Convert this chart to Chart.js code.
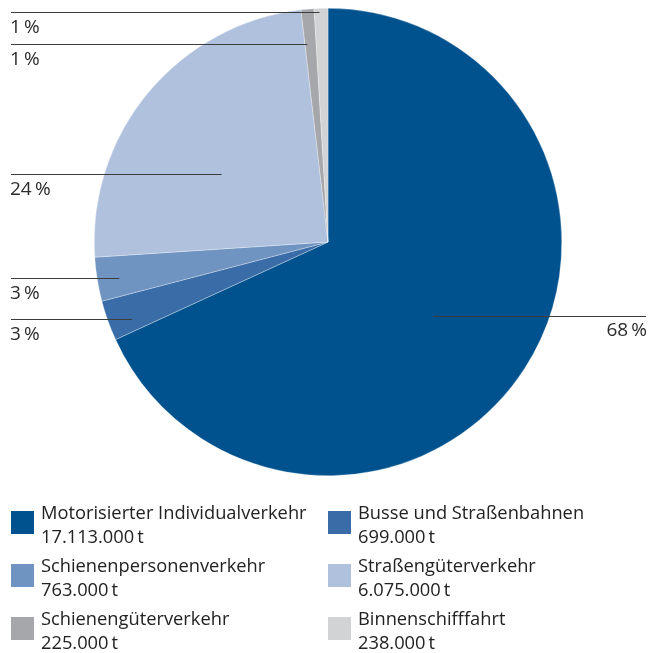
<!DOCTYPE html>
<html><head><meta charset="utf-8">
<script src="https://cdn.jsdelivr.net/npm/chart.js@4/dist/chart.umd.min.js"></script>
<style>html,body{margin:0;padding:0;background:#fff}#wrap{width:655px;height:653px;position:relative}</style>
</head><body><div id="wrap"><canvas id="c"></canvas></div>
<script>
const categories = ['Motorisierter Individualverkehr','Busse und Straßenbahnen','Schienenpersonenverkehr','Straßengüterverkehr','Schienengüterverkehr','Binnenschifffahrt'];
const values = [17113000, 699000, 763000, 6075000, 225000, 238000];
const valueLabels = ['17.113.000\u2009t','699.000\u2009t','763.000\u2009t','6.075.000\u2009t','225.000\u2009t','238.000\u2009t'];
const percentLabels = ['68\u2009%','3\u2009%','3\u2009%','24\u2009%','1\u2009%','1\u2009%'];
const colors = ['#00528f','#3a6da8','#7094c2','#b0c1de','#a6a7aa','#d2d3d5'];

const FONT = '"Open Sans", sans-serif';
const leaders = [
  {t:0.51, f:0.552, side:'right'},
  {t:0.32, f:0.90, side:'left'},
  {t:0.45, f:0.906, side:'left'},
  {t:0.417, f:0.54, side:'left'},
  {t:0.2, f:0.85, side:'left'},
  {t:0.38, f:0.986, side:'left'}
];

const leaderPlugin = {
  id:'leaders',
  afterDatasetsDraw(chart){
    const ctx = chart.ctx;
    const meta = chart.getDatasetMeta(0);
    ctx.save();
    meta.data.forEach((arc,i)=>{
      const L = leaders[i];
      const a = arc.startAngle + L.t*(arc.endAngle-arc.startAngle);
      const r = L.f*arc.outerRadius;
      const ax = arc.x + r*Math.cos(a), ay = Math.round(arc.y + r*Math.sin(a)) + 0.5;
      ctx.strokeStyle = '#3c3c3c'; ctx.lineWidth = 1;
      ctx.beginPath();
      ctx.font = '19px ' + FONT;
      ctx.fillStyle = '#2b2b2b';
      ctx.textBaseline = 'alphabetic';
      if (L.side === 'left') {
        ctx.moveTo(11, ay); ctx.lineTo(ax, ay); ctx.stroke();
        ctx.textAlign = 'left';
        ctx.fillText(percentLabels[i], 10, ay + 20.5);
      } else {
        ctx.moveTo(ax, ay); ctx.lineTo(646, ay); ctx.stroke();
        ctx.textAlign = 'right';
        ctx.fillText(percentLabels[i], 647, ay + 19.5);
      }
    });
    // legend
    const colX = [11, 328];
    const rowY = [505, 558, 611];
    categories.forEach((cat,i)=>{
      const x = colX[i%2], y = rowY[Math.floor(i/2)];
      ctx.fillStyle = colors[i];
      ctx.fillRect(x, y+6, 23, 23);
      ctx.fillStyle = '#222';
      ctx.textAlign = 'left';
      ctx.font = '18.3px ' + FONT;
      ctx.fillText(cat, x+30, y+14);
      ctx.fillText(valueLabels[i], x+30, y+38);
    });
    ctx.restore();
  }
};

new Chart(document.getElementById('c'), {
  type:'pie',
  data:{labels:categories, datasets:[{data:values, backgroundColor:colors, borderColor:'rgba(255,255,255,0.6)', borderWidth:0.5}]},
  options:{
    responsive:true, maintainAspectRatio:false, animation:false,
    layout:{padding:{top:8,bottom:177,left:1,right:0}},
    plugins:{legend:{display:false}, tooltip:{enabled:false}}
  },
  plugins:[leaderPlugin]
});
</script></body></html>
